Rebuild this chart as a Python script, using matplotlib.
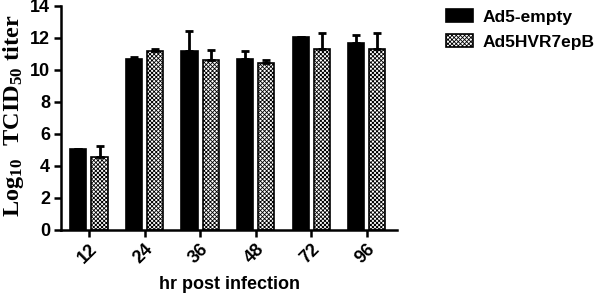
import matplotlib
matplotlib.use("Agg")
import matplotlib.pyplot as plt
import numpy as np

hours = ["12", "24", "36", "48", "72", "96"]
empty_vals = [5.05, 10.7, 11.2, 10.7, 12.05, 11.7]
empty_err = [0.0, 0.1, 1.2, 0.5, 0.0, 0.45]
hvr_vals = [4.55, 11.2, 10.6, 10.45, 11.3, 11.3]
hvr_err = [0.7, 0.1, 0.65, 0.15, 1.0, 1.0]

plt.rcParams['hatch.linewidth'] = 0.6
plt.rcParams['mathtext.fontset'] = 'custom'
plt.rcParams['mathtext.rm'] = 'Liberation Serif:bold'
plt.rcParams['mathtext.bf'] = 'Liberation Serif:bold'
plt.rcParams['mathtext.it'] = 'Liberation Serif:bold'

fig = plt.figure(figsize=(6, 2.94), dpi=100)
ax = fig.add_axes([0.102, 0.218, 0.56, 0.762])

x = np.arange(len(hours))
w = 0.29
off = 0.19
ax.bar(x - off, empty_vals, w, color='black', edgecolor='black', linewidth=1.2,
       yerr=[np.zeros(len(x)), empty_err], error_kw=dict(ecolor='black', elinewidth=2, capsize=3, capthick=2),
       label='Ad5-empty')
ax.bar(x + off, hvr_vals, w, color='white', edgecolor='black', linewidth=1.2, hatch='xxxxxxxx',
       yerr=[np.zeros(len(x)), hvr_err], error_kw=dict(ecolor='black', elinewidth=2, capsize=3, capthick=2),
       label='Ad5HVR7epB')

ax.set_xlim(-0.5, 5.55)
ax.set_ylim(0, 14)
ax.set_yticks(range(0, 15, 2))
ax.set_xticks(x)
ax.set_xticklabels(hours, rotation=45, ha='right', rotation_mode='anchor')
for lab in ax.get_xticklabels() + ax.get_yticklabels():
    lab.set_fontweight('bold')
    lab.set_fontfamily('Liberation Sans')
    lab.set_fontsize(13)
ax.tick_params(width=1.8, length=5, pad=3)
for s in ['top', 'right']:
    ax.spines[s].set_visible(False)
for s in ['left', 'bottom']:
    ax.spines[s].set_linewidth(1.8)

ax.set_ylabel(r'$\mathrm{Log_{10}\ \ TCID_{50}\ titer}$', fontsize=17.5)
ax.yaxis.set_label_coords(-0.105, 0.51)
ax.set_xlabel('hr post infection', fontfamily='Liberation Sans', fontweight='bold', fontsize=13, labelpad=6)

ax.legend(loc='upper left', bbox_to_anchor=(1.125, 1.015), frameon=False,
          prop=dict(family='Liberation Sans', weight='bold', size=12.5),
          handlelength=1.55, handleheight=0.75, handletextpad=0.55, labelspacing=0.55,
          borderaxespad=0)

fig.savefig('out.png', dpi=100)
